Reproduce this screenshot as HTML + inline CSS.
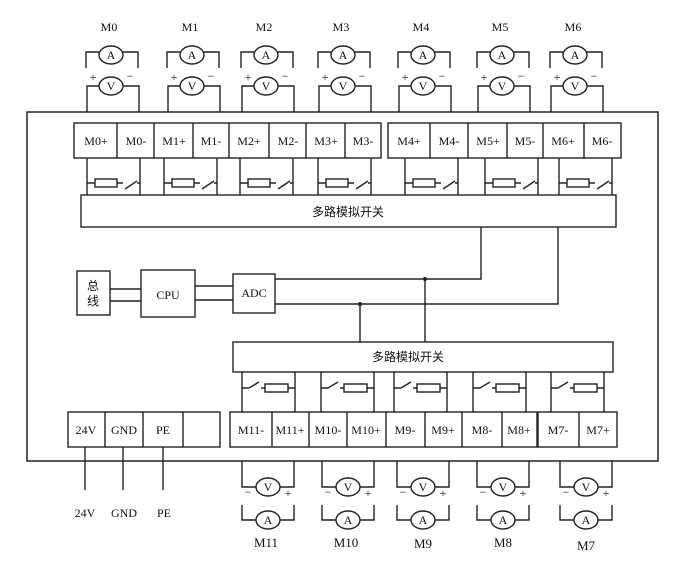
<!DOCTYPE html>
<html><head><meta charset="utf-8"><style>
html,body{margin:0;padding:0;background:#fff}
svg{display:block}
text{font-family:"Liberation Serif","Noto Serif CJK SC",serif;fill:#111}
.t{font-size:12px;text-anchor:middle}
.c{font-family:"Liberation Sans","Noto Sans CJK SC",sans-serif;font-size:12px}
</style></head><body>
<svg width="685" height="561" viewBox="0 0 685 561" xmlns="http://www.w3.org/2000/svg">
<defs>
<g id="mt" fill="none" stroke="#222" stroke-width="1.4">
<ellipse cx="0" cy="55" rx="12" ry="9" fill="#fff"/>
<path d="M-25 68V52H-12M12 52H27V68"/>
<ellipse cx="0" cy="86" rx="12" ry="9" fill="#fff"/>
<path d="M-24 112V86H-12M12 86H28V112"/>
</g>
<g id="mb" fill="none" stroke="#222" stroke-width="1.4">
<ellipse cx="0" cy="487" rx="12" ry="9" fill="#fff"/>
<path d="M-26 461V487H-12M12 487H26V461"/>
<ellipse cx="0" cy="520" rx="12" ry="9" fill="#fff"/>
<path d="M-26 505V520H-12M12 520H26V505"/>
</g>
<g id="st" fill="none" stroke="#222" stroke-width="1.4">
<path d="M0 158V195M53 158V195M0 183H8M30 183H36M38 189L50 181M50 183H53"/>
<rect x="8" y="179" width="22" height="8"/>
</g>
<g id="sb" fill="none" stroke="#222" stroke-width="1.4">
<path d="M0 372V412M53 372V412M0 388H7M7 388L17 382M19 388H23M46 388H53"/>
<rect x="23" y="384" width="23" height="8"/>
</g>
</defs>

<rect x="27" y="112" width="631" height="349" fill="none" stroke="#222" stroke-width="1.5"/>

<g><use href="#mt" x="111"/><text x="109" y="31" class="t" font-size="13">M0</text>
<text x="93" y="81" class="t">+</text><text x="130" y="80" class="t">−</text></g>
<g><use href="#mt" x="192"/><text x="190" y="31" class="t" font-size="13">M1</text>
<text x="174" y="81" class="t">+</text><text x="211" y="80" class="t">−</text></g>
<g><use href="#mt" x="266"/><text x="264" y="31" class="t" font-size="13">M2</text>
<text x="248" y="81" class="t">+</text><text x="285" y="80" class="t">−</text></g>
<g><use href="#mt" x="343"/><text x="341" y="31" class="t" font-size="13">M3</text>
<text x="325" y="81" class="t">+</text><text x="362" y="80" class="t">−</text></g>
<g><use href="#mt" x="423"/><text x="421" y="31" class="t" font-size="13">M4</text>
<text x="405" y="81" class="t">+</text><text x="442" y="80" class="t">−</text></g>
<g><use href="#mt" x="502"/><text x="500" y="31" class="t" font-size="13">M5</text>
<text x="484" y="81" class="t">+</text><text x="521" y="80" class="t">−</text></g>
<g><use href="#mt" x="575"/><text x="573" y="31" class="t" font-size="13">M6</text>
<text x="557" y="81" class="t">+</text><text x="594" y="80" class="t">−</text></g>
<g class="t">
<text x="111" y="59">A</text><text x="111" y="90">V</text>
<text x="192" y="59">A</text><text x="192" y="90">V</text>
<text x="266" y="59">A</text><text x="266" y="90">V</text>
<text x="343" y="59">A</text><text x="343" y="90">V</text>
<text x="423" y="59">A</text><text x="423" y="90">V</text>
<text x="502" y="59">A</text><text x="502" y="90">V</text>
<text x="575" y="59">A</text><text x="575" y="90">V</text>
</g>

<g fill="none" stroke="#222" stroke-width="1.4">
<rect x="74" y="123" width="307" height="35"/>
<path d="M117 123V158M154 123V158M193 123V158M229 123V158M269 123V158M306 123V158M345 123V158"/>
<rect x="388" y="123" width="233" height="35"/>
<path d="M430 123V158M468 123V158M507 123V158M543 123V158M584 123V158"/>
</g>
<g class="t">
<text x="96" y="145">M0+</text><text x="136" y="145">M0-</text>
<text x="174" y="145">M1+</text><text x="211" y="145">M1-</text>
<text x="249" y="145">M2+</text><text x="288" y="145">M2-</text>
<text x="326" y="145">M3+</text><text x="363" y="145">M3-</text>
<text x="409" y="145">M4+</text><text x="449" y="145">M4-</text>
<text x="488" y="145">M5+</text><text x="525" y="145">M5-</text>
<text x="563" y="145">M6+</text><text x="602" y="145">M6-</text>
</g>
<use href="#st" x="87"/><use href="#st" x="164"/><use href="#st" x="240"/><use href="#st" x="318"/>
<use href="#st" x="405"/><use href="#st" x="485"/><use href="#st" x="559"/>

<rect x="81" y="195" width="535" height="32" fill="#fff" stroke="#222" stroke-width="1.4"/>
<text x="348" y="216" class="c" text-anchor="middle">多路模拟开关</text>

<g fill="none" stroke="#222" stroke-width="1.4">
<rect x="77" y="271" width="33" height="44"/>
<rect x="141" y="270" width="54" height="47"/>
<rect x="233" y="274" width="42" height="39"/>
<path d="M110 289H141M110 301H141M195 286H233M195 300H233"/>
<path d="M275 279H481V227M275 304H558V227M425 279V342M360 304V342"/>
</g>
<circle cx="425" cy="279" r="2" fill="#222"/><circle cx="360" cy="304" r="2" fill="#222"/>
<text x="93" y="290" class="c" text-anchor="middle">总</text>
<text x="93" y="305" class="c" text-anchor="middle">线</text>
<text x="168" y="299" class="t" font-size="16">CPU</text>
<text x="254" y="297" class="t" font-size="11">ADC</text>

<rect x="233" y="342" width="380" height="30" fill="#fff" stroke="#222" stroke-width="1.4"/>
<text x="408" y="361" class="c" text-anchor="middle">多路模拟开关</text>
<use href="#sb" x="242"/><use href="#sb" x="321"/><use href="#sb" x="394"/><use href="#sb" x="473"/><use href="#sb" x="551"/>

<g fill="none" stroke="#222" stroke-width="1.4">
<rect x="68" y="412" width="152" height="35"/>
<path d="M105 412V447M143 412V447M183 412V447"/>
<rect x="230" y="412" width="307" height="35"/>
<path d="M272 412V447M309 412V447M347 412V447M386 412V447M425 412V447M462 412V447M502 412V447"/>
<rect x="538" y="412" width="79" height="35"/>
<path d="M579 412V447"/>
<path d="M85 447V490M123 447V490M163 447V490"/>
</g>
<g class="t">
<text x="86" y="434">24V</text><text x="124" y="434">GND</text><text x="163" y="434">PE</text>
<text x="251" y="434">M11-</text><text x="290" y="434">M11+</text>
<text x="328" y="434">M10-</text><text x="366" y="434">M10+</text>
<text x="405" y="434">M9-</text><text x="443" y="434">M9+</text>
<text x="482" y="434">M8-</text><text x="519" y="434">M8+</text>
<text x="558" y="434">M7-</text><text x="598" y="434">M7+</text>
<text x="85" y="517">24V</text><text x="124" y="517">GND</text><text x="164" y="517">PE</text>
</g>

<g class="t">
<use href="#mb" x="268"/><text x="268" y="491">V</text><text x="268" y="524">A</text><text x="266" y="547" font-size="13">M11</text>
<text x="248" y="496">−</text><text x="288" y="497">+</text>
<use href="#mb" x="348"/><text x="348" y="491">V</text><text x="348" y="524">A</text><text x="346" y="547" font-size="13">M10</text>
<text x="328" y="496">−</text><text x="368" y="497">+</text>
<use href="#mb" x="423"/><text x="423" y="491">V</text><text x="423" y="524">A</text><text x="423" y="548" font-size="13">M9</text>
<text x="403" y="496">−</text><text x="443" y="497">+</text>
<use href="#mb" x="503"/><text x="503" y="491">V</text><text x="503" y="524">A</text><text x="503" y="547" font-size="13">M8</text>
<text x="483" y="496">−</text><text x="523" y="497">+</text>
<use href="#mb" x="586"/><text x="586" y="491">V</text><text x="586" y="524">A</text><text x="586" y="550" font-size="13">M7</text>
<text x="566" y="496">−</text><text x="606" y="497">+</text>
</g>
</svg>
</body></html>
